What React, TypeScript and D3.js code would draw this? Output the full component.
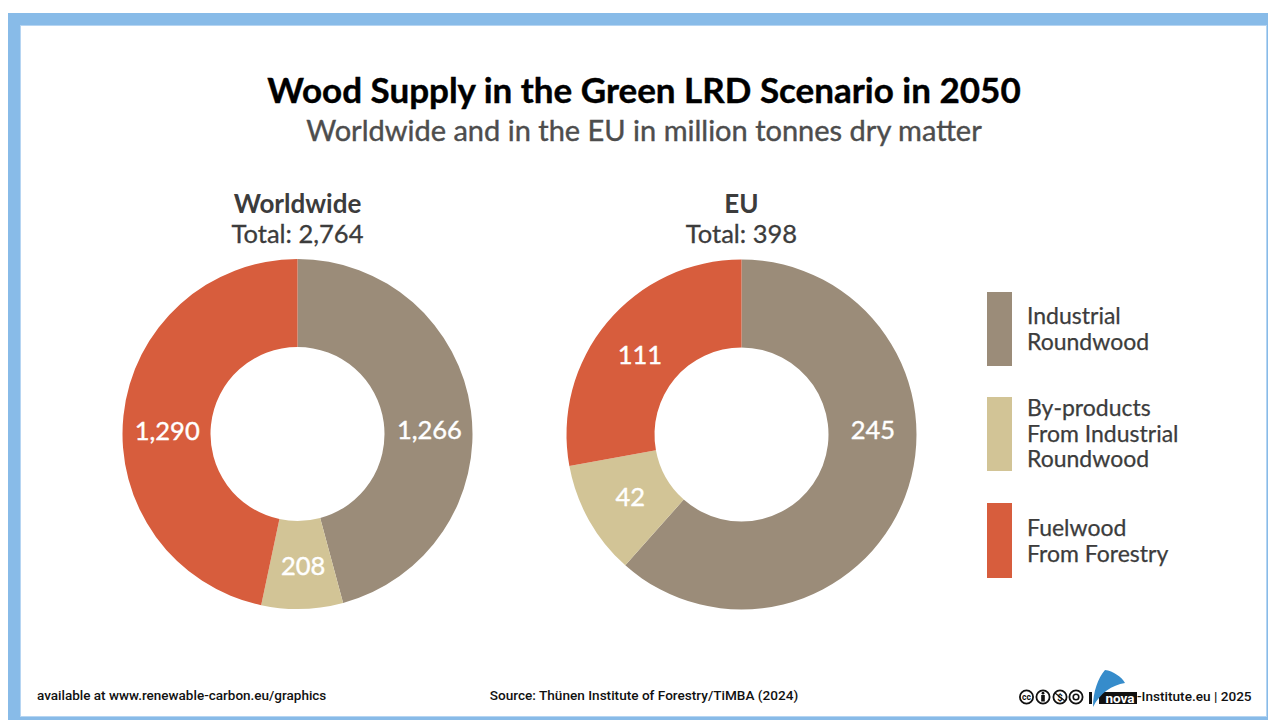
import React from "react";
import * as d3 from "d3";

const WIDTH = 1268;
const HEIGHT = 720;

const categories = ["Industrial Roundwood", "By-products From Industrial Roundwood", "Fuelwood From Forestry"];
const colours = ["#9b8c79", "#d2c496", "#d75d3d"];
const worldwideValues = [1266, 208, 1290];
const euValues = [245, 42, 111];
const legendLines = [["Industrial", "Roundwood"], ["By-products", "From Industrial", "Roundwood"], ["Fuelwood", "From Forestry"]];

const FONT = "Lato, 'Noto Sans', sans-serif";
const SANS = "Roboto, Arial, sans-serif";

const colour = d3.scaleOrdinal<string, string>().domain(categories).range(colours);
const pie = d3.pie<number>().sort(null);
const arc = d3.arc<d3.PieArcDatum<number>>().innerRadius(87).outerRadius(175);
const labelArc = d3.arc<d3.PieArcDatum<number>>().innerRadius(131).outerRadius(131);
const number = d3.format(",");

type DonutProps = {
  cx: number;
  cy: number;
  values: number[];
  title: string;
  total: number;
  nudges: [number, number][];
};

// Slice labels start at the arc centroid and are shifted by hand so they sit level with the neighbouring slice's label.
function Donut({ cx, cy, values, title, total, nudges }: DonutProps) {
  const slices = pie(values);
  return (
    <g>
      <text x={cx} y={213} textAnchor="middle" fontFamily={FONT} fontWeight={700} fontSize={26} fill="#3c3c3c">{title}</text>
      <text x={cx} y={243} textAnchor="middle" fontFamily={FONT} fontSize={25.5} fill="#3c3c3c" stroke="#3c3c3c" strokeWidth={0.3}>Total: {number(total)}</text>
      <g transform={`translate(${cx},${cy})`}>
        {slices.map((s, i) => <path key={i} d={arc(s) ?? ""} fill={colour(categories[i])} />)}
        {slices.map((s, i) => {
          const [x, y] = labelArc.centroid(s);
          return (
            <text key={i} x={x + nudges[i][0]} y={y + nudges[i][1]} dy="0.36em" textAnchor="middle" fontFamily={FONT} fontSize={25.5} fill="#ffffff" stroke="#ffffff" strokeWidth={0.4}>
              {number(values[i])}
            </text>
          );
        })}
      </g>
    </g>
  );
}

function Legend() {
  const tops = [292, 397, 503];
  const heights = [74, 74, 75];
  const textY = [324, 416, 536];
  return (
    <g>
      {categories.map((c, i) => (
        <g key={c}>
          <rect x={987} y={tops[i]} width={25} height={heights[i]} fill={colour(c)} />
          {legendLines[i].map((line, j) => (
            <text key={j} x={1027} y={textY[i] + j * 25.5} fontFamily={FONT} fontSize={23} fill="#3c3c3c" stroke="#3c3c3c" strokeWidth={0.25}>{line}</text>
          ))}
        </g>
      ))}
    </g>
  );
}

// Creative Commons badges: attribution, non-commercial, no-derivatives.
function Licence() {
  const y = 697;
  const ink = "#111111";
  return (
    <g>
      {[1026.5, 1043, 1060, 1076].map((x) => (
        <circle key={x} cx={x} cy={y} r={6.6} fill="#fff" stroke={ink} strokeWidth={1.8} />
      ))}
      <text x={1026.5} y={700} textAnchor="middle" fontFamily={SANS} fontWeight={700} fontSize={8.5} fill={ink}>cc</text>
      <circle cx={1043} cy={693.2} r={1.4} fill={ink} />
      <rect x={1041.2} y={695} width={3.6} height={6.5} fill={ink} />
      <text x={1060} y={700.5} textAnchor="middle" fontFamily={SANS} fontWeight={700} fontSize={9.5} fill={ink}>$</text>
      <line x1={1055} y1={693} x2={1065} y2={701} stroke={ink} strokeWidth={1.2} />
      <circle cx={1076} cy={y} r={2.8} fill="none" stroke={ink} strokeWidth={1.6} />
    </g>
  );
}

function Logo() {
  return (
    <g>
      <rect x={1089} y={692} width={3} height={12} fill="#111" />
      <rect x={1099} y={692} width={38} height={12} fill="#111" />
      <text x={1120} y={702.5} textAnchor="middle" fontFamily={SANS} fontWeight={700} fontSize={13.5} fill="#fff">nova</text>
      <path d="M1093,707 C1093,692 1098,678 1105,670 C1113,671 1122,677 1125,683 C1112,685 1100,693 1093,707 Z" fill="#368ccb" />
    </g>
  );
}

export default function App() {
  return (
    <svg width={WIDTH} height={HEIGHT} style={{ position: "absolute", left: 0, top: 0 }}>
      <rect width={WIDTH} height={HEIGHT} fill="#ffffff" />
      <rect x={8} y={13} width={1260} height={707} fill="#88bbe8" />
      <rect x={20.5} y={25.5} width={1246} height={691} fill="#ffffff" stroke="#b6d5f2" strokeWidth={1} />
      <text x={644} y={103} textAnchor="middle" fontFamily={FONT} fontWeight={700} fontSize={35} fill="#000000" stroke="#000000" strokeWidth={0.4}>Wood Supply in the Green LRD Scenario in 2050</text>
      <text x={644} y={141} textAnchor="middle" fontFamily={FONT} fontSize={29} fill="#4d4d4d" stroke="#4d4d4d" strokeWidth={0.4}>Worldwide and in the EU in million tonnes dry matter</text>
      <Donut cx={297.5} cy={434} values={worldwideValues} title="Worldwide" total={2764} nudges={[[2, 13], [2, 1], [0, 10]]} />
      <Donut cx={741.5} cy={434.5} values={euValues} title="EU" total={398} nudges={[[9, -51], [3, -2], [-1, 4]]} />
      <Legend />
      <text x={37} y={700} fontFamily={SANS} fontWeight={500} fontSize={13.5} fill="#111">available at www.renewable-carbon.eu/graphics</text>
      <text x={644} y={700} textAnchor="middle" fontFamily={SANS} fontWeight={500} fontSize={13.6} fill="#111">Source: Thünen Institute of Forestry/TiMBA (2024)</text>
      <Licence />
      <Logo />
      <text x={1137} y={700.5} fontFamily={SANS} fontWeight={500} fontSize={13.6} fill="#111">-Institute.eu | 2025</text>
    </svg>
  );
}
